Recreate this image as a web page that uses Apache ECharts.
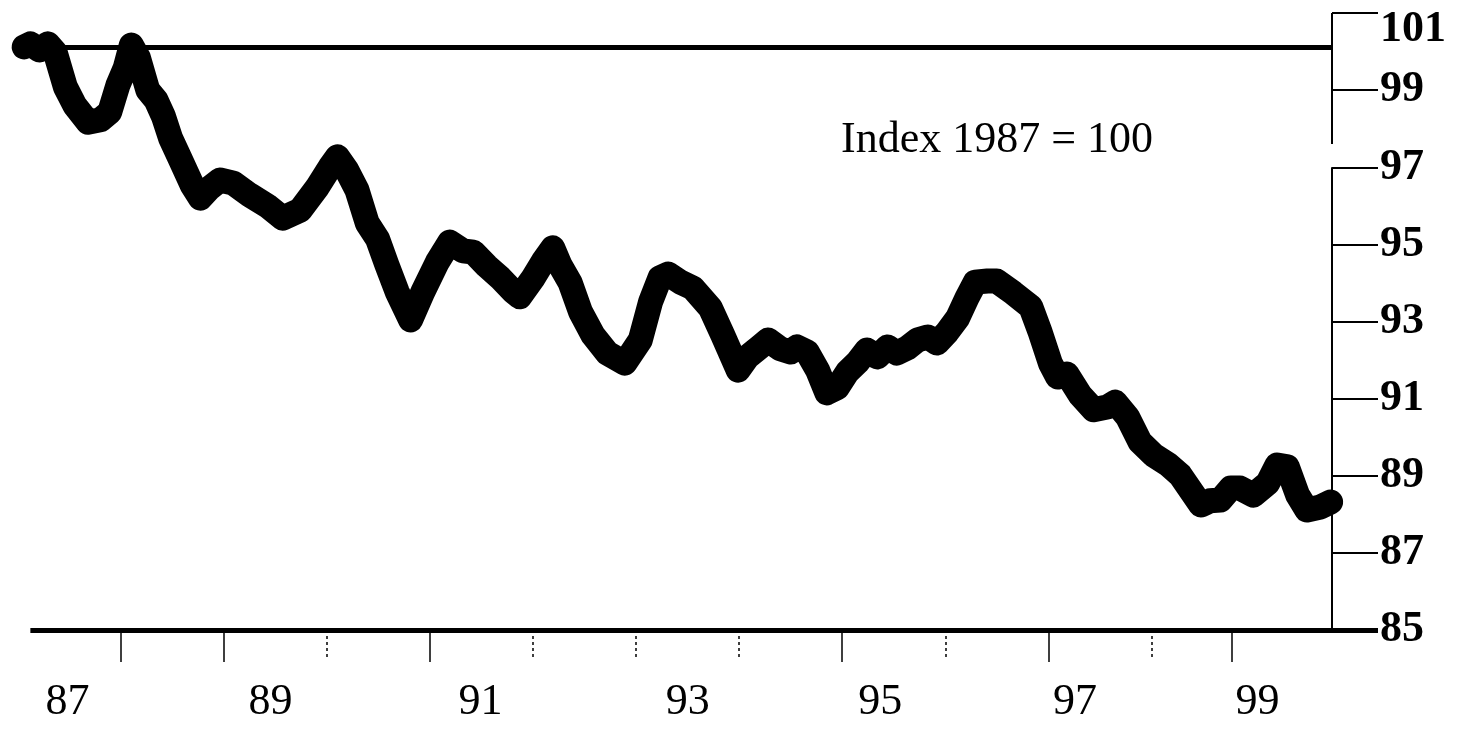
<!DOCTYPE html>
<html>
<head>
<meta charset="utf-8">
<script src="https://cdn.jsdelivr.net/npm/echarts@6.0.0/dist/echarts.min.js"></script>
<style>
  html, body { margin: 0; padding: 0; background: #fff; }
  #main { width: 1457px; height: 732px; }
</style>
</head>
<body>
<div id="main"></div>
<script>
// decimal years and index values (1987 = 100)
const years = [
  1987.06, 1987.12, 1987.21, 1987.29, 1987.36, 1987.46, 1987.55, 1987.68, 1987.80, 1987.89,
  1987.97, 1988.04, 1988.10, 1988.17, 1988.26, 1988.34, 1988.41, 1988.48, 1988.57, 1988.69,
  1988.77, 1988.86, 1988.96, 1989.09, 1989.25, 1989.42, 1989.57, 1989.74, 1989.90, 1990.03,
  1990.10, 1990.19, 1990.29, 1990.39, 1990.49, 1990.58, 1990.68, 1990.81, 1990.93, 1991.07,
  1991.19, 1991.32, 1991.42, 1991.55, 1991.68, 1991.81, 1991.87, 1992.00, 1992.10, 1992.19,
  1992.26, 1992.36, 1992.46, 1992.58, 1992.72, 1992.89, 1993.04, 1993.14, 1993.23, 1993.31,
  1993.43, 1993.55, 1993.72, 1993.84, 1993.99, 1994.08, 1994.20, 1994.28, 1994.40, 1994.50,
  1994.56, 1994.66, 1994.76, 1994.85, 1994.95, 1995.05, 1995.15, 1995.24, 1995.34, 1995.44,
  1995.53, 1995.63, 1995.73, 1995.83, 1995.92, 1996.02, 1996.12, 1996.21, 1996.29, 1996.41,
  1996.50, 1996.66, 1996.83, 1996.92, 1997.02, 1997.09, 1997.18, 1997.31, 1997.44, 1997.57,
  1997.65, 1997.77, 1997.89, 1998.02, 1998.16, 1998.28, 1998.38, 1998.48, 1998.57, 1998.67,
  1998.77, 1998.86, 1998.99, 1999.13, 1999.22, 1999.32, 1999.42, 1999.51, 1999.64, 1999.74
];
const indexValues = [
  100.12, 100.20, 100.04, 100.20, 99.99, 99.08, 98.61, 98.17, 98.23, 98.43,
  99.13, 99.57, 100.17, 99.83, 99.00, 98.74, 98.33, 97.76, 97.24, 96.54,
  96.20, 96.46, 96.67, 96.59, 96.28, 96.00, 95.68, 95.89, 96.46, 97.01,
  97.27, 96.93, 96.41, 95.55, 95.14, 94.47, 93.77, 93.04, 93.77, 94.54,
  95.06, 94.83, 94.80, 94.44, 94.13, 93.77, 93.64, 94.13, 94.57, 94.91,
  94.47, 94.00, 93.25, 92.65, 92.18, 91.92, 92.52, 93.51, 94.13, 94.23,
  94.02, 93.87, 93.35, 92.65, 91.74, 92.08, 92.34, 92.52, 92.29, 92.21,
  92.34, 92.21, 91.74, 91.15, 91.28, 91.69, 91.95, 92.26, 92.08, 92.34,
  92.18, 92.31, 92.52, 92.60, 92.44, 92.73, 93.09, 93.61, 94.02, 94.05,
  94.05, 93.74, 93.38, 92.73, 91.92, 91.56, 91.64, 91.09, 90.71, 90.78,
  90.91, 90.52, 89.88, 89.54, 89.30, 89.02, 88.63, 88.24, 88.35, 88.37,
  88.68, 88.68, 88.50, 88.81, 89.28, 89.23, 88.50, 88.11, 88.19, 88.32
];

// x axis: ticks at year starts, labels on odd years
const solidTicks = [1988, 1989, 1991, 1995, 1997, 1998.78];
const dottedTicks = [1990, 1992, 1993, 1994, 1996, 1998];
const labelYears = [1987.48, 1989.45, 1991.49, 1993.5, 1995.37, 1997.26, 1999.03];
const xMin = 1987;
const xEnd = 1999.75;   // where the data and the right axis stop
const xMax = 2000.2;    // room for the 85 rule to run out under the labels

// y axis
const yMin = 85, yMax = 101, yStep = 2;
const refLevel = 100.1;       // the index = 100 rule
const axisBreak = [97, 97.6]; // gap in the right axis line behind the note

const serif = "'Liberation Serif', 'Times New Roman', serif";
const myChart = echarts.init(document.getElementById('main'));

const thin = { color: '#000', width: 2, type: 'solid' };
const thick = { color: '#000', width: 5, type: 'solid' };

const option = {
  animation: false,
  backgroundColor: '#fff',
  title: {
    text: 'Index 1987 = 100',
    left: 836,
    top: 113,
    textStyle: { fontFamily: serif, fontSize: 44, fontWeight: 'normal', color: '#000' }
  },
  grid: { left: 18, right: 79, top: 13, bottom: 102, containLabel: false, outerBoundsMode: 'none' },
  xAxis: [
    {
      type: 'value',
      position: 'bottom',
      min: xMin,
      max: xMax,
      axisLine: { show: false },
      splitLine: { show: false },
      axisTick: { show: true, length: 32, customValues: solidTicks, lineStyle: { color: '#000', width: 1.5 } },
      axisLabel: {
        customValues: labelYears,
        margin: 50,
        color: '#000',
        fontFamily: serif,
        fontSize: 44,
        formatter: v => String(Math.floor(v)).slice(2)
      }
    },
    {
      type: 'value',
      position: 'bottom',
      min: xMin,
      max: xMax,
      axisLine: { show: false },
      splitLine: { show: false },
      axisLabel: { show: false },
      axisTick: { show: true, length: 28, customValues: dottedTicks, lineStyle: { color: '#000', width: 1.5, type: [3, 3] } }
    }
  ],
  yAxis: {
    type: 'value',
    position: 'right',
    offset: -46,
    min: yMin,
    max: yMax,
    interval: yStep,
    axisLine: { show: false },
    splitLine: { show: false },
    axisTick: { show: true, length: 46, lineStyle: { color: '#000', width: 2 } },
    axisLabel: {
      margin: 48,
      color: '#000',
      fontFamily: serif,
      fontSize: 44,
      fontWeight: 'bold',
      formatter: v => (v === yMax ? '{top|' + v + '}' : String(v)),
      rich: { top: { fontFamily: serif, fontSize: 44, fontWeight: 'bold', color: '#000', padding: [34, 0, 0, 0] } }
    }
  },
  series: [
    {
      name: 'index',
      type: 'line',
      showSymbol: false,
      symbol: 'none',
      data: years.map((t, i) => [t, indexValues[i]]),
      lineStyle: { color: '#000', width: 25, cap: 'round', join: 'round' },
      markLine: {
        silent: true,
        symbol: 'none',
        label: { show: false },
        animation: false,
        data: [
          [{ coord: [1987.41, refLevel], lineStyle: thick }, { coord: [xEnd, refLevel] }],
          [{ coord: [1987.12, yMin], lineStyle: thick }, { coord: [xMax, yMin] }],
          [{ coord: [xEnd, yMax], lineStyle: thin }, { coord: [xEnd, axisBreak[1]] }],
          [{ coord: [xEnd, axisBreak[0]], lineStyle: thin }, { coord: [xEnd, yMin] }]
        ]
      }
    }
  ]
};
myChart.setOption(option);
</script>
</body>
</html>
